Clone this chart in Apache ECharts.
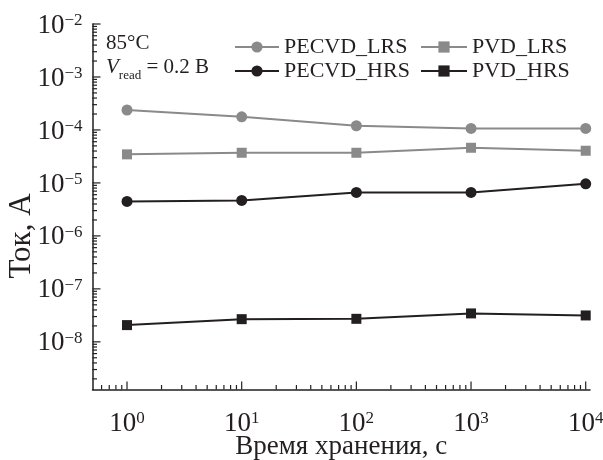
<!DOCTYPE html>
<html>
<head>
<meta charset="utf-8">
<script src="https://cdn.jsdelivr.net/npm/echarts@6/dist/echarts.min.js"></script>
<style>
  html, body { margin: 0; padding: 0; background: #fff; }
  #chart { width: 603px; height: 460px; }
</style>
</head>
<body>
<div id="chart"></div>
<script>
// ---- data ----
const times = [1, 10, 100, 1000, 10000];
const pecvdLrs = [2.38e-4, 1.77e-4, 1.20e-4, 1.07e-4, 1.07e-4];
const pvdLrs   = [3.46e-5, 3.71e-5, 3.71e-5, 4.61e-5, 4.05e-5];
const pecvdHrs = [4.48e-6, 4.68e-6, 6.62e-6, 6.62e-6, 9.64e-6];
const pvdHrs   = [2.07e-8, 2.68e-8, 2.72e-8, 3.44e-8, 3.15e-8];
const yMajorTicks = [1e-8, 1e-7, 1e-6, 1e-5, 1e-4, 1e-3, 1e-2];
const xMajorTicks = [1, 10, 100, 1000, 10000];
const yMinorDecades = [-9, -8, -7, -6, -5, -4, -3];
const xMinorDecades = [-1, 0, 1, 2, 3];
const minorMult = [2, 3, 4, 5, 6, 7, 8, 9];

const Y_MIN = 1.26e-9, Y_MAX = 1e-2;
const X_MIN = 0.5, X_MAX = 1.09e4;

function minorList(decades, lo, hi) {
  const out = [];
  decades.forEach(d => minorMult.forEach(m => {
    const v = m * Math.pow(10, d);
    if (v > lo && v < hi) out.push(v);
  }));
  return out;
}
const yMinorTicks = minorList(yMinorDecades, Y_MIN, Y_MAX);
const xMinorTicks = minorList(xMinorDecades, X_MIN, X_MAX);

const FONT = '"Liberation Serif", "Times New Roman", serif';
const INK = '#231f20';
const GRAY = '#8a8a8a';
const MAJOR_LEN = 8, MINOR_LEN = 4.5;

function powLabel(v) {
  const e = Math.round(Math.log10(v));
  const s = e < 0 ? '\u2212' + Math.abs(e) : String(e);
  return '{b|10}{s|' + s + '}';
}
const labelRich = {
  b: { fontFamily: FONT, fontSize: 27, lineHeight: 27, color: INK, padding: [9, 0, 0, 0], verticalAlign: 'bottom' },
  s: { fontFamily: FONT, fontSize: 17, lineHeight: 17, color: INK, verticalAlign: 'top' }
};

const chart = echarts.init(document.getElementById('chart'), null, { renderer: 'canvas' });

function mkSeries(name, arr, color, symbol, size) {
  return {
    name: name, type: 'line',
    data: times.map((t, i) => [t, arr[i]]),
    symbol: symbol, symbolSize: size,
    showAllSymbol: true,
    lineStyle: { color: color, width: 2 },
    itemStyle: { color: color, borderWidth: 0 },
    emphasis: { disabled: true },
    animation: false, z: 3
  };
}

// tick marks drawn through the axes' scales
function tickSeries(values, vertical, len) {
  const data = values.map(v => vertical ? [v, Y_MIN] : [X_MIN, v]);
  return {
    type: 'custom', coordinateSystem: 'cartesian2d', data: data, clip: false, silent: true, z: 4,
    dimensions: ['x', 'y'], encode: { x: 0, y: 1 },
    animation: false,
    renderItem: function (params, api) {
      const p = api.coord([api.value(0), api.value(1)]);
      const shape = vertical
        ? { x1: p[0], y1: p[1], x2: p[0], y2: p[1] - len }
        : { x1: p[0], y1: p[1], x2: p[0] + len, y2: p[1] };
      return { type: 'line', shape: shape, style: { stroke: INK, lineWidth: 1.2, fill: null } };
    }
  };
}

const option = {
  backgroundColor: '#ffffff',
  animation: false,
  grid: { left: 92.5, right: 13, top: 24, bottom: 70.5, containLabel: false, outerBoundsMode: 'none' },
  xAxis: {
    type: 'log', min: X_MIN, max: X_MAX, position: 'bottom',
    name: 'Время хранения, с', nameLocation: 'middle', nameGap: 44, nameMoveOverlap: false,
    nameTextStyle: { fontFamily: FONT, fontSize: 27, color: INK },
    axisLine: { show: true, lineStyle: { color: INK, width: 1.5 } },
    axisTick: { show: false },
    axisLabel: { show: true, customValues: xMajorTicks, formatter: powLabel, rich: labelRich, margin: 21 },
    splitLine: { show: false }, minorTick: { show: false }
  },
  yAxis: {
    type: 'log', min: Y_MIN, max: Y_MAX, position: 'left',
    axisLine: { show: true, lineStyle: { color: INK, width: 1.5 } },
    axisTick: { show: false },
    axisLabel: { show: true, customValues: yMajorTicks, formatter: powLabel, rich: labelRich, margin: 10, padding: [3, 0, 0, 0] },
    splitLine: { show: false }, minorTick: { show: false }
  },
  legend: [
    {
      orient: 'vertical', left: 234, top: 36, padding: 0, itemWidth: 44, itemHeight: 14, itemGap: 2,
      data: ['PECVD_LRS', 'PECVD_HRS'],
      textStyle: { fontFamily: FONT, fontSize: 22, color: INK },
      selectedMode: false
    },
    {
      orient: 'vertical', left: 420, top: 36, padding: 0, itemWidth: 46, itemHeight: 14, itemGap: 2,
      data: ['PVD_LRS', 'PVD_HRS'],
      textStyle: { fontFamily: FONT, fontSize: 22, color: INK },
      selectedMode: false
    }
  ],
  graphic: [
    {
      type: 'text', x: 22, y: 236, rotation: Math.PI / 2, silent: true,
      style: { text: 'Ток, А', font: '31px ' + FONT, fill: INK, align: 'center', verticalAlign: 'middle' }
    },
    {
      type: 'text', left: 106, top: 33, silent: true,
      style: { text: '85°C', font: '21px ' + FONT, fill: INK }
    },
    {
      type: 'text', left: 106, top: 57, silent: true,
      style: {
        text: '{v|V}{sub|read}{t| = 0.2 В}',
        rich: {
          v: { fontFamily: FONT, fontStyle: 'italic', fontSize: 21, lineHeight: 22, fill: INK, padding: [0, 0, 4, 0], verticalAlign: 'bottom' },
          sub: { fontFamily: FONT, fontSize: 13, lineHeight: 13, fill: INK, verticalAlign: 'bottom' },
          t: { fontFamily: FONT, fontSize: 21, lineHeight: 22, fill: INK, padding: [0, 0, 4, 0], verticalAlign: 'bottom' }
        }
      }
    }
  ],
  series: [
    mkSeries('PECVD_LRS', pecvdLrs, GRAY, 'circle', 11),
    mkSeries('PVD_LRS', pvdLrs, GRAY, 'rect', 10),
    mkSeries('PECVD_HRS', pecvdHrs, INK, 'circle', 11),
    mkSeries('PVD_HRS', pvdHrs, INK, 'rect', 10),
    tickSeries(xMajorTicks, true, MAJOR_LEN),
    tickSeries(xMinorTicks, true, MINOR_LEN),
    tickSeries(yMajorTicks, false, MAJOR_LEN),
    tickSeries(yMinorTicks, false, MINOR_LEN)
  ]
};
chart.setOption(option);
</script>
</body>
</html>
